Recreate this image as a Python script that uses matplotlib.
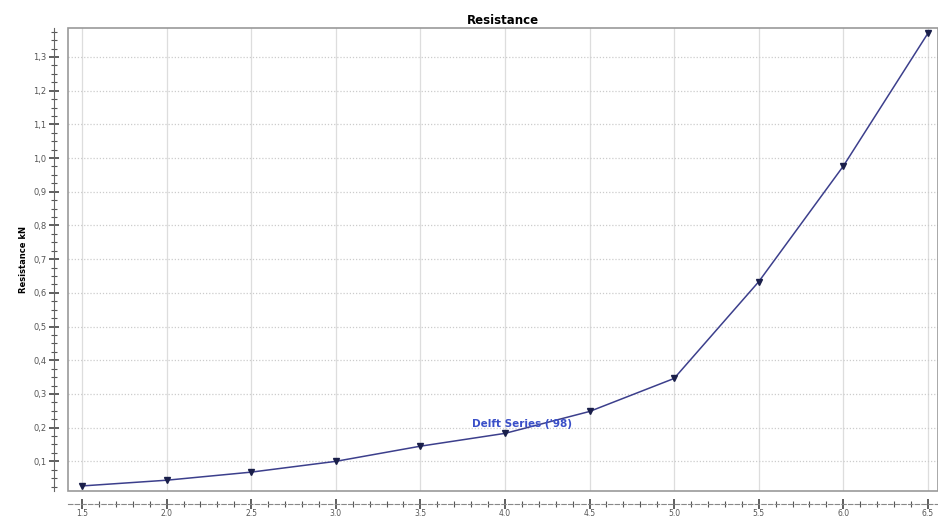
import matplotlib.pyplot as plt
from matplotlib.patches import Rectangle
from matplotlib.ticker import MultipleLocator, FuncFormatter

# Delft series resistance curve
speed = [1.5, 2.0, 2.5, 3.0, 3.5, 4.0, 4.5, 5.0, 5.5, 6.0, 6.5]
resistance = [0.027, 0.044, 0.068, 0.100, 0.145, 0.183, 0.248, 0.346, 0.633, 0.976, 1.37]
series_name = "Delft Series ('98)"

fig = plt.figure(figsize=(9.38, 5.19), dpi=100)
ax = fig.add_axes([68/938, 28/519, 870/938, 463/519])

ax.plot(speed, resistance, color='#3c3f8c', lw=1.1, marker='v', ms=5,
        mfc='#1a1f4a', mec='#1a1f4a')
ax.text(4.1, 0.21, series_name, color='#3a4fc8', fontsize=7.5, fontweight='bold',
        ha='center', va='center')

ax.set_xlim(1.417, 6.56)
ax.set_ylim(0.012, 1.386)

ax.xaxis.set_major_locator(MultipleLocator(0.5))
ax.xaxis.set_minor_locator(MultipleLocator(0.1))
ax.yaxis.set_major_locator(MultipleLocator(0.1))
ax.yaxis.set_minor_locator(MultipleLocator(0.025))
ax.xaxis.set_major_formatter(FuncFormatter(lambda v, p: f'{v:.1f}'))
ax.yaxis.set_major_formatter(FuncFormatter(lambda v, p: f'{v:.1f}'.replace('.', ',')))

ax.grid(True, axis='x', color='#dddddd', lw=0.9, ls='-')
ax.grid(True, axis='y', color='#cccccc', lw=0.9, ls=(0, (1, 1.5)))
ax.set_axisbelow(True)

for s in ['top', 'right']:
    ax.spines[s].set_visible(False)
ax.spines['left'].set_position(('outward', 10))
ax.spines['bottom'].set_position(('outward', 9))
ax.spines['left'].set_color('#666666')
ax.spines['bottom'].set_color('#888888')
ax.spines['bottom'].set_linestyle((0, (4, 2)))

# plot area frame
ax.add_patch(Rectangle((0, 0), 1, 1, transform=ax.transAxes, fill=False,
                       ec='#999999', lw=1.2, clip_on=False))

ax.tick_params(axis='both', which='major', direction='inout', length=7,
               width=1.2, color='#444444', labelsize=6, labelcolor='#555555', pad=2)
ax.tick_params(axis='x', which='major', pad=0.5, labelsize=5.5)
ax.tick_params(axis='both', which='minor', direction='inout', length=4,
               width=0.8, color='#555555')

ax.set_ylabel('Resistance kN', fontsize=6, fontweight='bold', labelpad=4)
ax.set_title('Resistance', fontsize=8.5, fontweight='bold', pad=3)

fig.savefig('out.png', dpi=100)
